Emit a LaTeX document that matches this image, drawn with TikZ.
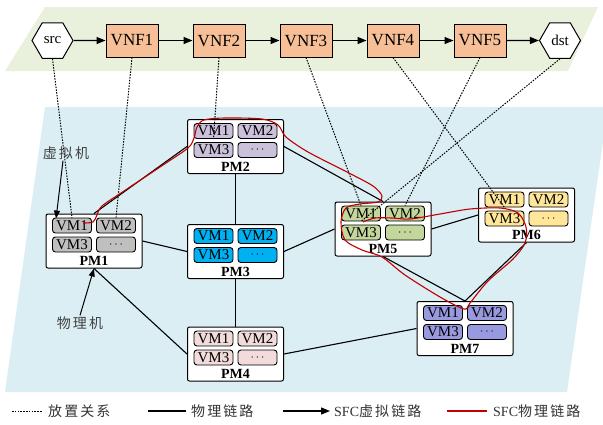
\documentclass[tikz,border=0pt]{standalone}
\usepackage{fontspec}
\setmainfont{Liberation Serif}
\newfontfamily\cjk[LetterSpace=15]{Noto Sans CJK SC}
\usetikzlibrary{shapes.geometric,arrows.meta,calc}

\definecolor{vnforange}{HTML}{F6BF98}
\definecolor{greenbg}{HTML}{E9F0DC}
\definecolor{bluebg}{HTML}{DAEEF3}
\definecolor{sfcred}{HTML}{C00000}
\definecolor{vmgray}{HTML}{BFBFBF}
\definecolor{vmlilac}{HTML}{CCC1DA}
\definecolor{vmcyan}{HTML}{00B0F0}
\definecolor{vmpink}{HTML}{F2DCDB}
\definecolor{vmolive}{HTML}{C3D69B}
\definecolor{vmgold}{HTML}{FFE699}
\definecolor{vmviolet}{HTML}{9999E0}

% physical machine: box, four VM slots and its name
\newcommand{\pmachine}[4]{%
  \node[pm] (#1) at (#2) {};
  \node[vm, fill=#3] (#1vm1) at ($(#1)+(-22,-15.5)$) {VM1};
  \node[vm, fill=#3] (#1vm2) at ($(#1)+(22,-15.5)$) {VM2};
  \node[vm, fill=#3] (#1vm3) at ($(#1)+(-22,3.5)$) {VM3};
  \node[vm, fill=#3] (#1vm4) at ($(#1)+(22,3.5)$) {\fontsize{13}{13}\selectfont$\cdots$};
  \node[pmname] at ($(#1)+(0,20)$) {#4};
}

\begin{document}
\begin{tikzpicture}[x=1pt, y=-1pt,
    pm/.style={draw, fill=white, rounded corners=2pt, line width=1pt,
      minimum width=96pt, minimum height=54pt, inner sep=0pt},
    vm/.style={draw, rounded corners=3pt, line width=0.9pt, inner sep=0pt,
      minimum width=39pt, minimum height=15pt, font=\fontsize{15}{15}\selectfont},
    pmname/.style={inner sep=0pt, font=\fontsize{14}{14}\selectfont\bfseries},
    vnf/.style={draw, fill=vnforange, line width=1pt, inner sep=0pt,
      minimum width=52pt, minimum height=33pt, font=\fontsize{17}{17}\selectfont},
    endpoint/.style={draw, fill=white, regular polygon, regular polygon sides=6,
      line width=1pt, inner sep=0pt, minimum size=41pt, font=\fontsize{15}{15}\selectfont},
    chain/.style={line width=1.2pt, -{Triangle[length=9pt,width=7pt]}},
    link/.style={line width=1.1pt},
    place/.style={line width=1pt, dash pattern=on 1.5pt off 1.3pt},
    sfcpath/.style={draw=sfcred, line width=1.1pt},
    tag/.style={inner sep=1pt, text=black!75, font=\cjk\fontsize{14}{14}\selectfont},
    legendtext/.style={anchor=west, inner sep=0pt, text=black!80,
      font=\fontsize{14}{14}\selectfont}]
  \useasboundingbox (0,0) rectangle (603,424);

  % planes
  \fill[greenbg] (45,7) -- (598,7) -- (568,71) -- (5,71) -- cycle;
  \fill[bluebg] (45,107) -- (608,107) -- (567,392) -- (5,392) -- cycle;

  % service function chain
  \node[endpoint] (src) at (52.5,40.5) {src};
  \node[vnf] (vnf1) at (132,40.5) {VNF1};
  \node[vnf] (vnf2) at (219,40.5) {VNF2};
  \node[vnf] (vnf3) at (306,40.5) {VNF3};
  \node[vnf] (vnf4) at (393,40.5) {VNF4};
  \node[vnf] (vnf5) at (480,40.5) {VNF5};
  \node[endpoint] (dst) at (560,40.5) {dst};
  \draw[chain] (src) -- (vnf1);
  \draw[chain] (vnf1) -- (vnf2);
  \draw[chain] (vnf2) -- (vnf3);
  \draw[chain] (vnf3) -- (vnf4);
  \draw[chain] (vnf4) -- (vnf5);
  \draw[chain] (vnf5) -- (dst);

  % physical network
  \pmachine{pm1}{94,241}{vmgray}{PM1}
  \pmachine{pm2}{235.5,146.5}{vmlilac}{PM2}
  \pmachine{pm3}{235.5,251.5}{vmcyan}{PM3}
  \pmachine{pm4}{235.5,354}{vmpink}{PM4}
  \pmachine{pm5}{383,229}{vmolive}{PM5}
  \pmachine{pm6}{526.5,215}{vmgold}{PM6}
  \pmachine{pm7}{465,328.5}{vmviolet}{PM7}

  \draw[link] (pm1.north) -- (pm2.west);
  \draw[link] (pm1.east) -- (pm3.west);
  \draw[link] (pm1.south) -- (pm4.west);
  \draw[link] (pm2.south) -- (pm3.north);
  \draw[link] (pm3.south) -- (pm4.north);
  \draw[link] (pm2.east) -- (pm5.north);
  \draw[link] (pm3.east) -- (pm5.west);
  \draw[link] (pm5.east) -- (pm6.west);
  \draw[link] (pm5.south) -- (pm7.north);
  \draw[link] (pm6.south) -- (pm7.north);
  \draw[link] (pm4.east) -- (pm7.west);

  % placement of the chain onto VMs
  \draw[place] (src.south) -- (pm1vm1.north);
  \draw[place] (vnf1.south) -- (pm1vm2.north);
  \draw[place] (vnf2.south) -- (pm2vm1.south);
  \draw[place] (vnf3.south) -- (pm5vm1.north);
  \draw[place] (vnf4.south) -- (pm6vm1.south);
  \draw[place] (vnf5.south) -- (pm5vm2.north);
  \draw[place] (dst.south) -- (pm5vm1.south);

  % routed chain
  \draw[sfcpath] plot[smooth, tension=0.5] coordinates {
    (83,223) (93,222) (97,215) (102,206) (124,191) (163,165) (188,148)
    (194,138) (197,127) (204,120) (225,118) (262,119) (278,125) (286,137)
    (308,152) (347,172) (373,186) (382,196) (378,202) (360,204) (346,208)
    (341,222) (345,240) (362,250) (382,257) (405,275) (440,297) (464,309)
    (470,303) (488,281) (513,259) (525,243) (526,227) (518,213) (500,208)
    (470,209) (440,214) (410,219) (392,218) (375,218) (363,222)};

  % annotations
  \node[tag] (vmtag) at (66,153) {虚拟机};
  \node[tag] (pmtag) at (80,323) {物理机};
  \draw[line width=1pt, -{Triangle[length=8pt,width=6pt]}]
    ([xshift=-3pt]vmtag.south) -- ([xshift=4pt,yshift=-1pt]pm1vm1.north west);
  \draw[line width=1pt, -{Triangle[length=8pt,width=6pt]}]
    (pmtag.north) -- (pm1.south);

  % legend
  \coordinate (l1a) at (12,411);  \coordinate (l1b) at (42,411);
  \coordinate (l2a) at (148,411); \coordinate (l2b) at (186,411);
  \coordinate (l3a) at (283,411); \coordinate (l3b) at (330,411);
  \coordinate (l4a) at (447,411); \coordinate (l4b) at (487,411);
  \draw[place] (l1a) -- (l1b);
  \node[legendtext] at (48,411) {\cjk 放置关系};
  \draw[link] (l2a) -- (l2b);
  \node[legendtext] at (191,411) {\cjk 物理链路};
  \draw[chain] (l3a) -- (l3b);
  \node[legendtext] at (334,411) {SFC\cjk 虚拟链路};
  \draw[sfcpath] (l4a) -- (l4b);
  \node[legendtext] at (493,411) {SFC\cjk 物理链路};
\end{tikzpicture}
\end{document}
